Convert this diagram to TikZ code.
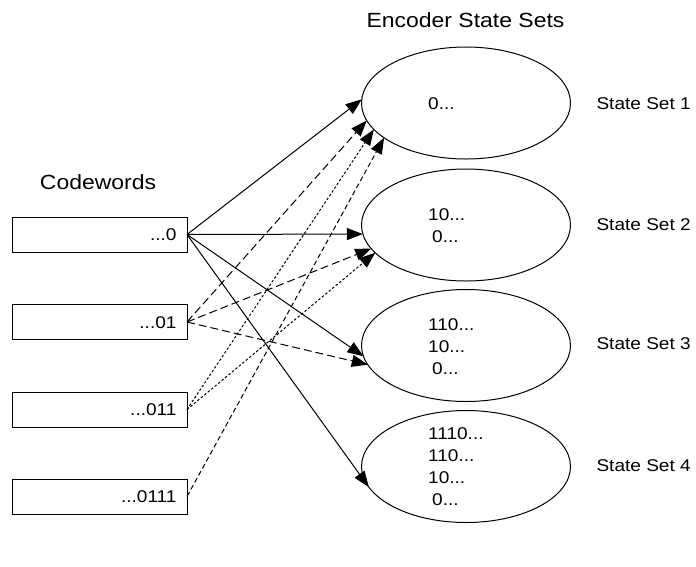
\documentclass[tikz,border=0pt]{standalone}
\usepackage{fontspec}
\setmainfont[FakeStretch=1.12]{Liberation Sans}
\usetikzlibrary{arrows.meta,shapes.geometric}
\begin{document}
\begin{tikzpicture}[x=1pt,y=-1pt,
  every node/.style={font=\fontsize{17}{22}\selectfont},
  title/.style={font=\fontsize{20.5}{24}\selectfont},
  word/.style={draw, line width=1pt, minimum width=175pt, minimum height=35pt,
               inner sep=0pt, outer sep=0pt},
  wordtext/.style={anchor=east},
  stateset/.style={draw, ellipse, line width=1pt, minimum width=209pt,
                   minimum height=112pt, inner sep=0pt, outer sep=0pt},
  statetext/.style={anchor=west, align=left, inner sep=0pt},
  conn/.style={line width=1pt, -{Triangle[length=16pt,width=12pt]}},
  longdash/.style={dash pattern=on 8pt off 4pt},
  finedot/.style={dash pattern=on 2.5pt off 2pt},
  shortdash/.style={dash pattern=on 5pt off 3pt}]
\useasboundingbox (0,0) rectangle (696,566);

% headings
\node[title] (hcw) at (98,182) {Codewords};
\node[title] (hes) at (465.5,20) {Encoder State Sets};

% codeword boxes
\node[word] (b1) at (99.5,234.5) {};
\node[word] (b2) at (99.5,322) {};
\node[word] (b3) at (99.5,409.5) {};
\node[word] (b4) at (99.5,496.5) {};
\node[wordtext] (t1) at (180,235) {...0};
\node[wordtext] (t2) at (180,322.5) {...01};
\node[wordtext] (t3) at (180,410) {...011};
\node[wordtext] (t4) at (180,497) {...0111};

% encoder state sets
\node[stateset] (e1) at (466,103) {};
\node[stateset] (e2) at (466,225) {};
\node[stateset] (e3) at (466,345.5) {};
\node[stateset] (e4) at (466,466.5) {};
\node[statetext] (s1) at (428,104) {0...};
\node[statetext] (s2) at (428,226) {10...\\\hspace{4pt}0...};
\node[statetext] (s3) at (428,347) {110...\\10...\\\hspace{4pt}0...};
\node[statetext] (s4) at (428,467) {1110...\\110...\\10...\\\hspace{4pt}0...};

% set names
\node[anchor=west] (n1) at (593,104) {State Set 1};
\node[anchor=west] (n2) at (593,225) {State Set 2};
\node[anchor=west] (n3) at (593,344) {State Set 3};
\node[anchor=west] (n4) at (593,466) {State Set 4};

% codeword ...0
\draw[conn] (b1.east) -- (e1.178);
\draw[conn] (b1.east) -- (e2.185);
\draw[conn] (b1.east) -- (e3.186);
\draw[conn] (b1.east) -- (e4.192);
% codeword ...01
\draw[conn,longdash] (b2.east) -- (e1.190);
\draw[conn,longdash] (b2.east) -- (e2.194);
\draw[conn,longdash] (b2.east) -- (e3.191);
% codeword ...011
\draw[conn,finedot] (b3.east) -- (e1.196);
\draw[conn,finedot] (b3.east) -- (e2.197);
% codeword ...0111
\draw[conn,shortdash] (b4.east) -- (e1.203);
\end{tikzpicture}
\end{document}
